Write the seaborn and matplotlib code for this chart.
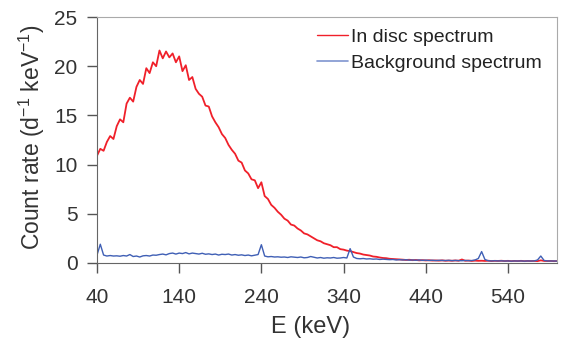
import numpy as np
import pandas as pd
import seaborn as sns
import matplotlib.pyplot as plt
from matplotlib.lines import Line2D

# energy bins (keV), 4 keV apart
energy = np.arange(40, 601, 4)

in_disc = [
    10.9, 11.6, 11.4, 12.3, 12.9, 12.6, 13.9, 14.6, 14.3, 16.2,
    16.8, 16.4, 17.9, 18.6, 18.2, 19.8, 19.3, 20.4, 20.0, 21.6,
    20.8, 21.5, 20.9, 21.3, 20.4, 21.0, 19.5, 20.1, 18.6, 18.9,
    17.7, 17.2, 16.9, 16.0, 15.9, 14.9, 14.3, 13.8, 13.1, 12.7,
    12.0, 11.5, 11.1, 10.4, 10.2, 9.4, 9.1, 8.5, 8.4, 7.6,
    8.2, 6.8, 6.5, 5.9, 5.6, 5.2, 4.9, 4.5, 4.3, 3.9,
    3.8, 3.5, 3.3, 3.0, 2.9, 2.7, 2.5, 2.3, 2.2, 2.0,
    1.9, 1.8, 1.6, 1.6, 1.4, 1.35, 1.25, 1.2, 1.1, 1.0,
    0.95, 0.85, 0.8, 0.75, 0.65, 0.62, 0.55, 0.5, 0.48, 0.42,
    0.4, 0.38, 0.35, 0.33, 0.3, 0.32, 0.28, 0.3, 0.26, 0.28,
    0.25, 0.27, 0.24, 0.25, 0.23, 0.26, 0.22, 0.24, 0.22, 0.25,
    0.22, 0.35, 0.22, 0.24, 0.2, 0.23, 0.21, 0.22, 0.2, 0.22,
    0.19, 0.21, 0.2, 0.22, 0.19, 0.21, 0.18, 0.2, 0.19, 0.21,
    0.18, 0.2, 0.19, 0.2, 0.18, 0.26, 0.2, 0.19, 0.2, 0.18,
    0.19,
]

background = [
    0.8, 1.9, 0.8, 0.7, 0.75, 0.7, 0.72, 0.68, 0.75, 0.7,
    0.85, 0.65, 0.7, 0.6, 0.72, 0.75, 0.7, 0.8, 0.78, 0.85,
    0.9, 0.82, 0.95, 1.0, 0.9, 1.0, 0.95, 1.05, 0.92, 1.0,
    0.95, 0.9, 0.98, 0.88, 0.92, 0.85, 0.9, 0.8, 0.88, 0.85,
    0.9, 0.8, 0.85, 0.78, 0.82, 0.75, 0.8, 0.72, 0.78, 0.85,
    1.85, 0.7, 0.62, 0.65, 0.6, 0.62, 0.58, 0.6, 0.55, 0.62,
    0.58, 0.55, 0.6, 0.52, 0.55, 0.65, 0.58, 0.5, 0.55, 0.48,
    0.52, 0.5, 0.55, 0.48, 0.5, 0.55, 0.5, 1.45, 0.6, 0.45,
    0.42, 0.45, 0.4, 0.42, 0.38, 0.4, 0.35, 0.38, 0.35, 0.33,
    0.35, 0.3, 0.33, 0.3, 0.32, 0.28, 0.3, 0.27, 0.3, 0.26,
    0.28, 0.25, 0.27, 0.24, 0.26, 0.25, 0.24, 0.26, 0.23, 0.25,
    0.24, 0.22, 0.25, 0.23, 0.24, 0.3, 0.45, 1.15, 0.35, 0.22,
    0.2, 0.22, 0.2, 0.21, 0.19, 0.2, 0.18, 0.2, 0.19, 0.2,
    0.18, 0.2, 0.19, 0.2, 0.3, 0.7, 0.25, 0.2, 0.19, 0.2,
    0.18,
]

x_ticks = [40, 140, 240, 340, 440, 540]
y_ticks = [0, 5, 10, 15, 20, 25]

sns.set_style("ticks")
plt.rcParams['font.family'] = ['Liberation Sans', 'DejaVu Sans']

df = pd.DataFrame({
    'E': np.concatenate([energy, energy]),
    'rate': in_disc + background,
    'series': ['In disc spectrum'] * len(energy) + ['Background spectrum'] * len(energy),
})

fig = plt.figure(figsize=(5.64, 3.41), dpi=100)
ax = fig.add_axes([0.172, 0.229, 0.816, 0.721])

sns.lineplot(data=df, x='E', y='rate', hue='series', ax=ax,
             palette={'In disc spectrum': '#f0202a', 'Background spectrum': '#3f5fb5'},
             size='series', sizes={'In disc spectrum': 1.3, 'Background spectrum': 1.0},
             estimator=None, legend=False)

ax.set_xlim(40, 600)
ax.set_ylim(0, 25)
ax.set_xticks(x_ticks)
ax.set_yticks(y_ticks)
ax.tick_params(labelsize=15, colors='#555555', labelcolor='#333333', length=7, width=1)
ax.tick_params(axis='x', pad=11)
ax.tick_params(axis='y', pad=7)
ax.set_xlabel('E (keV)', fontsize=17, color='#333333')
ax.set_ylabel(r'Count rate (d$^{\mathregular{-1}}$ keV$^{\mathregular{-1}}$)', fontsize=16.5, color='#333333')
ax.xaxis.set_label_coords(0.465, -0.215)
ax.yaxis.set_label_coords(-0.108, 0.51)

for side in ['left', 'bottom']:
    ax.spines[side].set_color('#666666')
for side in ['top', 'right']:
    ax.spines[side].set_visible(True)
    ax.spines[side].set_color('#aaaaaa')

handles = [Line2D([], [], color='#f0202a', lw=1.0), Line2D([], [], color='#7f95cf', lw=1.2)]
ax.legend(handles, ['In disc spectrum', 'Background spectrum'], loc='upper left',
          bbox_to_anchor=(0.461, 0.985), borderaxespad=0,
          frameon=False, fontsize=14, handlelength=1.6, handletextpad=0.15,
          labelspacing=0.4, labelcolor='#222222')

fig.savefig('out.png', dpi=100)
